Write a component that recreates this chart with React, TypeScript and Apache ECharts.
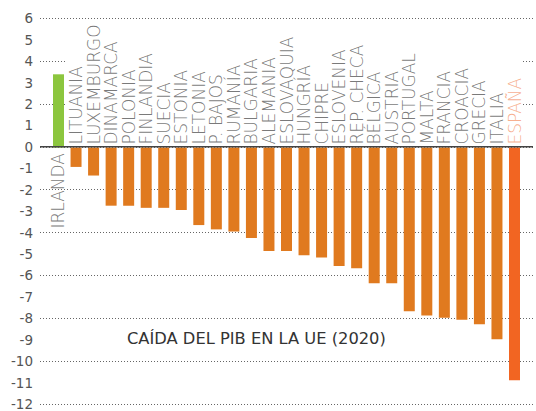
import React, { useEffect, useRef } from "react";
import * as echarts from "echarts";

const countries = [
  "IRLANDA", "LITUANIA", "LUXEMBURGO", "DINAMARCA", "POLONIA", "FINLANDIA", "SUECIA",
  "ESTONIA", "LETONIA", "P. BAJOS", "RUMANÍA", "BULGARIA", "ALEMANIA", "ESLOVAQUIA",
  "HUNGRÍA", "CHIPRE", "ESLOVENIA", "REP. CHECA", "BÉLGICA", "AUSTRIA", "PORTUGAL",
  "MALTA", "FRANCIA", "CROACIA", "GRECIA", "ITALIA", "ESPAÑA",
];
const gdpChange = [
  3.4, -0.9, -1.3, -2.7, -2.7, -2.8, -2.8,
  -2.9, -3.6, -3.8, -3.9, -4.2, -4.8, -4.8,
  -5.0, -5.1, -5.5, -5.6, -6.3, -6.3, -7.6,
  -7.8, -7.9, -8.0, -8.2, -8.9, -10.8,
];
const yMin = -12;
const yMax = 6;
const title = "CAÍDA DEL PIB EN LA UE (2020)";

const GREEN = "#8cc63e";
const ORANGE = "#e07a1f";
const SPAIN = "#f26522";
const SPAIN_LABEL = "#f59a72";
const FONT = "'DejaVu Sans', sans-serif";

export default function App() {
  const ref = useRef<HTMLDivElement>(null);
  useEffect(() => {
    if (!ref.current) return;
    const chart = echarts.init(ref.current, undefined, { renderer: "svg" });
    const gridTop = 18.3;
    const gridBottom = 5;
    const splitColors: string[] = [];
    for (let v = yMin; v <= yMax; v++) splitColors.push(v % 2 === 0 ? "#666" : "rgba(0,0,0,0)");
    chart.setOption({
      animation: false,
      title: {
        text: title,
        left: 127,
        top: 330,
        textStyle: { fontFamily: FONT, fontSize: 16.3, fontWeight: "normal", color: "#333" },
        padding: 0,
      },
      grid: [
        { left: 40, right: 3, top: gridTop, bottom: gridBottom },
        { left: 49.73, right: 12.73, top: gridTop, bottom: gridBottom },
      ],
      xAxis: [
        { type: "value", gridIndex: 0, min: 0, max: 1, show: false },
        { type: "category", gridIndex: 1, data: countries, show: false },
      ],
      yAxis: [
        {
          type: "value",
          gridIndex: 0,
          min: yMin,
          max: yMax,
          interval: 1,
          axisLine: { show: false },
          axisTick: { show: false },
          axisLabel: { margin: 7, fontFamily: FONT, fontSize: 13.5, color: "#555" },
          splitLine: { show: true, lineStyle: { color: splitColors, width: 1, type: [1, 2] } },
        },
        { type: "value", gridIndex: 1, min: yMin, max: yMax, show: false, splitLine: { show: false } },
      ],
      graphic: [
        {
          type: "rect",
          z: 1,
          shape: { x: 67, y: 24, width: 454, height: 118 },
          style: { fill: "#fff" },
        },
      ],
      series: [
        {
          type: "line",
          xAxisIndex: 0,
          yAxisIndex: 0,
          data: [[0, 0], [1, 0]],
          symbol: "none",
          lineStyle: { color: "#444", width: 1.5 },
          z: 5,
          silent: true,
        },
        {
          type: "bar",
          xAxisIndex: 1,
          yAxisIndex: 1,
          barWidth: 11,
          z: 3,
          data: gdpChange.map((v, i) => ({
            value: v,
            itemStyle: {
              color: v > 0 ? GREEN : countries[i] === "ESPAÑA" ? SPAIN : ORANGE,
            },
          })),
        },
        {
          type: "scatter",
          xAxisIndex: 1,
          yAxisIndex: 1,
          symbolSize: 1,
          itemStyle: { color: "rgba(0,0,0,0)" },
          z: 6,
          data: countries.map((c, i) => {
            const pos = gdpChange[i] > 0;
            return {
              name: c,
              value: [c, 0],
              label: {
                show: true,
                position: pos ? "bottom" : "top",
                distance: pos ? 5 : 2.5,
                rotate: 90,
                align: pos ? "right" : "left",
                verticalAlign: "middle",
                formatter: c,
                fontFamily: FONT,
                fontSize: 17,
                fontWeight: 200,
                color: c === "ESPAÑA" ? SPAIN_LABEL : "#555",
              },
            };
          }),
        },
      ],
    });
    return () => chart.dispose();
  }, []);
  return <div ref={ref} style={{ width: 536, height: 411, position: "absolute", left: 0, top: 0 }} />;
}
